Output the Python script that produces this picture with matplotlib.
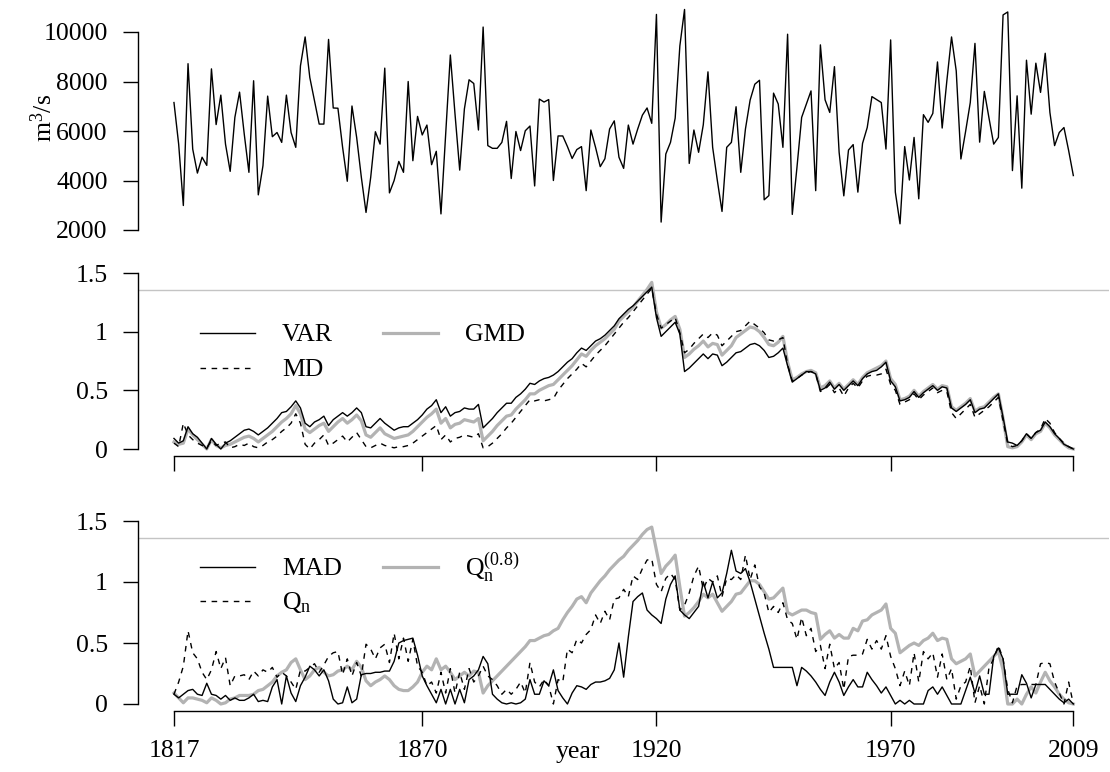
import matplotlib
matplotlib.use("Agg")
import matplotlib.pyplot as plt
from matplotlib.lines import Line2D

plt.rcParams['font.family'] = ['Liberation Serif', 'DejaVu Serif']
plt.rcParams['mathtext.fontset'] = 'custom'
plt.rcParams['mathtext.rm'] = 'Liberation Serif'
plt.rcParams['mathtext.it'] = 'Liberation Serif:italic'

years = list(range(1817, 2010))

flow = [7150, 5470, 2990, 8720, 5270, 4300, 4940, 4610, 8510, 6260,
        7450, 5470, 4370, 6550, 7570, 5880, 4330, 8030, 3420, 4600,
        7410, 5770, 5940, 5540, 7450, 5940, 5340, 8630, 9800, 8160,
        7220, 6280, 6280, 9700, 6930, 6920, 5340, 3970, 7010, 5740,
        4130, 2710, 4130, 5970, 5470, 8540, 3500, 4000, 4770, 4330,
        8000, 4800, 6590, 5840, 6240, 4640, 5180, 2650, 5880, 9070,
        6680, 4420, 6890, 8070, 7920, 6040, 10200, 5410, 5300, 5300,
        5540, 6390, 4080, 5980, 5210, 6010, 6200, 3780, 7290, 7170,
        7270, 4000, 5800, 5800, 5370, 4890, 5250, 5370, 3590, 6040,
        5340, 4560, 4880, 6080, 6410, 4940, 4490, 6240, 5470, 6080,
        6640, 6930, 6310, 10710, 2320, 5070, 5540, 6520, 9440, 10910,
        4690, 6040, 5140, 6250, 8390, 5340, 4000, 2750, 5340, 5540,
        6980, 4330, 6080, 7250, 7890, 8050, 3220, 3390, 7530, 7090,
        5340, 9910, 2630, 4530, 6550, 7090, 7620, 3590, 9480, 7260,
        6750, 8600, 5140, 3380, 5230, 5450, 3530, 5500, 6140, 7390,
        7270, 7150, 5270, 9680, 3530, 2250, 5370, 4020, 5740, 3260,
        6660, 6350, 6710, 8790, 6120, 8030, 9800, 8430, 4870, 5980,
        7150, 9540, 5550, 7600, 6520, 5470, 5740, 10690, 10810, 4400,
        7420, 3690, 8860, 6680, 8740, 7560, 9140, 6750, 5410, 5940,
        6140, 5210, 4200]

var_stat = [0.09, 0.05, 0.07, 0.19, 0.13, 0.10, 0.05, 0.00, 0.09, 0.04,
            0.00, 0.05, 0.07, 0.10, 0.13, 0.16, 0.17, 0.15, 0.12, 0.15,
            0.18, 0.22, 0.26, 0.31, 0.32, 0.36, 0.41, 0.35, 0.22, 0.19,
            0.23, 0.25, 0.28, 0.20, 0.25, 0.28, 0.31, 0.28, 0.31, 0.35,
            0.31, 0.19, 0.18, 0.22, 0.26, 0.22, 0.19, 0.16, 0.18, 0.19,
            0.19, 0.22, 0.25, 0.29, 0.34, 0.37, 0.42, 0.31, 0.36, 0.28,
            0.31, 0.32, 0.35, 0.34, 0.34, 0.38, 0.18, 0.22, 0.26, 0.31,
            0.35, 0.39, 0.39, 0.44, 0.47, 0.51, 0.56, 0.55, 0.58, 0.60,
            0.61, 0.63, 0.66, 0.70, 0.74, 0.77, 0.82, 0.86, 0.84, 0.88,
            0.92, 0.94, 0.97, 1.01, 1.05, 1.11, 1.15, 1.19, 1.22, 1.26,
            1.30, 1.34, 1.38, 1.12, 0.96, 1.00, 1.04, 1.08, 0.98, 0.66,
            0.69, 0.73, 0.77, 0.81, 0.77, 0.81, 0.80, 0.71, 0.74, 0.78,
            0.82, 0.83, 0.86, 0.89, 0.90, 0.88, 0.84, 0.78, 0.79, 0.82,
            0.86, 0.71, 0.57, 0.60, 0.63, 0.66, 0.66, 0.64, 0.50, 0.52,
            0.57, 0.51, 0.55, 0.50, 0.54, 0.58, 0.54, 0.60, 0.64, 0.66,
            0.67, 0.70, 0.74, 0.58, 0.53, 0.41, 0.42, 0.44, 0.49, 0.44,
            0.48, 0.51, 0.54, 0.50, 0.53, 0.52, 0.35, 0.32, 0.35, 0.38,
            0.42, 0.31, 0.34, 0.35, 0.39, 0.43, 0.47, 0.27, 0.06, 0.05,
            0.03, 0.07, 0.13, 0.09, 0.14, 0.16, 0.23, 0.19, 0.13, 0.09,
            0.04, 0.02, 0.00]

gmd_stat = [0.06, 0.04, 0.05, 0.17, 0.12, 0.08, 0.04, 0.00, 0.08, 0.03,
            0.01, 0.03, 0.04, 0.06, 0.08, 0.10, 0.11, 0.09, 0.06, 0.09,
            0.12, 0.15, 0.19, 0.23, 0.26, 0.30, 0.37, 0.30, 0.17, 0.14,
            0.17, 0.20, 0.22, 0.15, 0.19, 0.23, 0.26, 0.22, 0.25, 0.29,
            0.24, 0.12, 0.10, 0.14, 0.18, 0.13, 0.11, 0.09, 0.10, 0.11,
            0.12, 0.15, 0.19, 0.23, 0.27, 0.30, 0.34, 0.22, 0.26, 0.18,
            0.21, 0.22, 0.25, 0.24, 0.23, 0.26, 0.07, 0.11, 0.15, 0.20,
            0.24, 0.28, 0.29, 0.34, 0.38, 0.42, 0.47, 0.47, 0.50, 0.52,
            0.54, 0.55, 0.59, 0.63, 0.67, 0.71, 0.76, 0.81, 0.79, 0.84,
            0.88, 0.91, 0.94, 0.98, 1.02, 1.09, 1.13, 1.17, 1.21, 1.26,
            1.31, 1.36, 1.42, 1.17, 1.03, 1.06, 1.10, 1.13, 1.02, 0.78,
            0.81, 0.85, 0.88, 0.92, 0.87, 0.90, 0.89, 0.80, 0.84, 0.88,
            0.95, 0.98, 1.01, 1.04, 1.03, 1.00, 0.95, 0.89, 0.88, 0.91,
            0.96, 0.74, 0.59, 0.61, 0.64, 0.66, 0.67, 0.65, 0.52, 0.54,
            0.58, 0.52, 0.56, 0.51, 0.55, 0.59, 0.55, 0.61, 0.65, 0.67,
            0.69, 0.71, 0.75, 0.60, 0.55, 0.42, 0.43, 0.45, 0.50, 0.45,
            0.49, 0.52, 0.55, 0.51, 0.54, 0.53, 0.36, 0.33, 0.36, 0.39,
            0.43, 0.32, 0.35, 0.36, 0.40, 0.44, 0.47, 0.26, 0.02, 0.01,
            0.02, 0.06, 0.12, 0.08, 0.13, 0.15, 0.22, 0.18, 0.12, 0.08,
            0.04, 0.01, 0.00]

md_stat = [0.05, 0.02, 0.22, 0.12, 0.08, 0.05, 0.03, 0.01, 0.07, 0.03,
           0.05, 0.06, 0.01, 0.02, 0.04, 0.03, 0.05, 0.02, 0.01, 0.03,
           0.06, 0.08, 0.11, 0.15, 0.18, 0.22, 0.30, 0.22, 0.04, 0.00,
           0.05, 0.08, 0.12, 0.03, 0.05, 0.08, 0.11, 0.06, 0.10, 0.14,
           0.08, 0.02, 0.01, 0.03, 0.05, 0.03, 0.02, 0.01, 0.02, 0.02,
           0.03, 0.05, 0.08, 0.11, 0.14, 0.17, 0.20, 0.08, 0.12, 0.06,
           0.09, 0.10, 0.12, 0.11, 0.10, 0.13, 0.01, 0.02, 0.05, 0.09,
           0.13, 0.18, 0.22, 0.27, 0.32, 0.37, 0.42, 0.41, 0.42, 0.41,
           0.42, 0.43, 0.50, 0.55, 0.60, 0.64, 0.68, 0.73, 0.70, 0.75,
           0.80, 0.84, 0.88, 0.93, 0.98, 1.03, 1.08, 1.12, 1.17, 1.22,
           1.27, 1.32, 1.37, 1.15, 1.03, 1.06, 1.09, 1.12, 0.99, 0.82,
           0.85, 0.90, 0.94, 0.98, 0.95, 0.99, 0.97, 0.88, 0.92, 0.96,
           1.00, 1.01, 1.05, 1.09, 1.06, 1.03, 0.99, 0.93, 0.92, 0.93,
           0.95, 0.72, 0.58, 0.60, 0.63, 0.65, 0.66, 0.64, 0.49, 0.51,
           0.55, 0.48, 0.52, 0.45, 0.52, 0.56, 0.52, 0.58, 0.62, 0.63,
           0.63, 0.64, 0.68, 0.55, 0.50, 0.38, 0.40, 0.42, 0.47, 0.42,
           0.46, 0.49, 0.52, 0.48, 0.50, 0.49, 0.31, 0.26, 0.30, 0.34,
           0.38, 0.27, 0.30, 0.33, 0.36, 0.40, 0.44, 0.24, 0.04, 0.02,
           0.03, 0.07, 0.13, 0.09, 0.14, 0.17, 0.26, 0.22, 0.14, 0.09,
           0.05, 0.02, 0.00]

mad_stat = [0.08, 0.05, 0.08, 0.11, 0.12, 0.08, 0.07, 0.17, 0.08, 0.07,
            0.04, 0.07, 0.03, 0.05, 0.03, 0.03, 0.05, 0.08, 0.02, 0.03,
            0.02, 0.14, 0.20, 0.00, 0.23, 0.09, 0.02, 0.15, 0.22, 0.31,
            0.28, 0.23, 0.28, 0.19, 0.04, 0.00, 0.01, 0.14, 0.01, 0.04,
            0.24, 0.25, 0.25, 0.26, 0.26, 0.27, 0.27, 0.35, 0.50, 0.52,
            0.53, 0.54, 0.40, 0.23, 0.15, 0.08, 0.01, 0.12, 0.00, 0.12,
            0.00, 0.12, 0.01, 0.20, 0.23, 0.28, 0.39, 0.33, 0.08, 0.04,
            0.01, 0.00, 0.01, 0.00, 0.01, 0.04, 0.20, 0.08, 0.08, 0.19,
            0.15, 0.28, 0.11, 0.05, 0.00, 0.09, 0.15, 0.14, 0.12, 0.16,
            0.18, 0.18, 0.19, 0.21, 0.28, 0.50, 0.22, 0.55, 0.84, 0.88,
            0.91, 0.77, 0.73, 0.70, 0.66, 0.86, 0.98, 1.05, 0.77, 0.73,
            0.70, 0.75, 0.80, 1.00, 0.87, 1.00, 0.87, 0.91, 1.07, 1.26,
            1.09, 1.07, 1.11, 1.00, 0.86, 0.72, 0.58, 0.45, 0.30, 0.30,
            0.30, 0.30, 0.30, 0.15, 0.30, 0.27, 0.23, 0.18, 0.12, 0.07,
            0.18, 0.26, 0.18, 0.07, 0.14, 0.20, 0.14, 0.14, 0.26, 0.20,
            0.15, 0.09, 0.14, 0.07, 0.00, 0.03, 0.00, 0.03, 0.00, 0.00,
            0.00, 0.11, 0.14, 0.08, 0.14, 0.07, 0.00, 0.00, 0.00, 0.11,
            0.22, 0.09, 0.23, 0.08, 0.08, 0.39, 0.46, 0.37, 0.08, 0.08,
            0.08, 0.24, 0.17, 0.05, 0.16, 0.16, 0.16, 0.12, 0.08, 0.04,
            0.01, 0.04, 0.00]

qn_stat = [0.08, 0.18, 0.31, 0.60, 0.42, 0.37, 0.26, 0.20, 0.28, 0.43,
           0.29, 0.38, 0.15, 0.23, 0.23, 0.24, 0.20, 0.27, 0.23, 0.28,
           0.26, 0.30, 0.22, 0.26, 0.23, 0.18, 0.12, 0.28, 0.27, 0.30,
           0.33, 0.26, 0.32, 0.39, 0.42, 0.43, 0.24, 0.37, 0.23, 0.34,
           0.23, 0.49, 0.45, 0.37, 0.46, 0.49, 0.34, 0.58, 0.37, 0.54,
           0.35, 0.53, 0.31, 0.26, 0.15, 0.18, 0.09, 0.26, 0.09, 0.29,
           0.09, 0.26, 0.12, 0.29, 0.18, 0.23, 0.31, 0.23, 0.20, 0.15,
           0.08, 0.12, 0.08, 0.12, 0.18, 0.09, 0.34, 0.18, 0.14, 0.20,
           0.15, 0.00, 0.20, 0.18, 0.45, 0.42, 0.53, 0.50, 0.57, 0.61,
           0.73, 0.66, 0.76, 0.69, 0.86, 0.87, 0.94, 0.88, 1.05, 1.02,
           1.11, 1.18, 1.19, 0.98, 0.92, 1.03, 1.07, 1.02, 0.77, 0.81,
           0.91, 1.05, 1.13, 0.94, 1.03, 1.00, 1.05, 0.88, 1.03, 1.02,
           1.06, 1.02, 1.22, 1.02, 1.14, 0.96, 0.91, 0.75, 0.80, 0.75,
           0.83, 0.69, 0.66, 0.53, 0.71, 0.56, 0.62, 0.43, 0.48, 0.29,
           0.49, 0.29, 0.34, 0.12, 0.39, 0.40, 0.40, 0.41, 0.53, 0.45,
           0.52, 0.45, 0.56, 0.39, 0.29, 0.15, 0.27, 0.15, 0.42, 0.18,
           0.43, 0.37, 0.42, 0.22, 0.41, 0.20, 0.29, 0.04, 0.15, 0.18,
           0.31, 0.01, 0.15, 0.00, 0.30, 0.37, 0.48, 0.37, 0.12, 0.01,
           0.15, 0.16, 0.16, 0.16, 0.16, 0.33, 0.34, 0.33, 0.18, 0.09,
           0.00, 0.18, 0.00]

qn08_stat = [0.09, 0.05, 0.01, 0.05, 0.05, 0.04, 0.03, 0.01, 0.05, 0.03,
             0.00, 0.01, 0.04, 0.05, 0.07, 0.07, 0.07, 0.08, 0.11, 0.12,
             0.15, 0.18, 0.23, 0.26, 0.28, 0.34, 0.37, 0.28, 0.20, 0.23,
             0.28, 0.30, 0.26, 0.23, 0.24, 0.27, 0.28, 0.31, 0.28, 0.35,
             0.30, 0.19, 0.15, 0.18, 0.20, 0.23, 0.20, 0.15, 0.12, 0.11,
             0.11, 0.14, 0.18, 0.26, 0.31, 0.28, 0.37, 0.28, 0.31, 0.26,
             0.20, 0.23, 0.26, 0.23, 0.27, 0.26, 0.09, 0.15, 0.19, 0.23,
             0.27, 0.31, 0.35, 0.39, 0.43, 0.47, 0.52, 0.52, 0.54, 0.56,
             0.57, 0.60, 0.62, 0.69, 0.75, 0.80, 0.86, 0.88, 0.83, 0.91,
             0.96, 1.01, 1.05, 1.10, 1.14, 1.18, 1.21, 1.26, 1.30, 1.34,
             1.39, 1.43, 1.45, 1.26, 1.07, 1.13, 1.17, 1.22, 0.96, 0.72,
             0.75, 0.79, 0.84, 0.90, 0.87, 0.90, 0.83, 0.76, 0.80, 0.84,
             0.90, 0.91, 0.96, 1.01, 1.01, 0.98, 0.92, 0.86, 0.87, 0.91,
             0.95, 0.75, 0.73, 0.75, 0.77, 0.77, 0.75, 0.74, 0.53, 0.57,
             0.60, 0.54, 0.57, 0.54, 0.54, 0.62, 0.60, 0.68, 0.69, 0.73,
             0.75, 0.77, 0.82, 0.62, 0.58, 0.42, 0.45, 0.48, 0.50, 0.48,
             0.52, 0.54, 0.58, 0.52, 0.54, 0.53, 0.37, 0.33, 0.35, 0.37,
             0.41, 0.23, 0.27, 0.31, 0.35, 0.39, 0.43, 0.28, 0.00, 0.00,
             0.04, 0.00, 0.08, 0.14, 0.09, 0.18, 0.26, 0.19, 0.14, 0.08,
             0.04, 0.01, 0.00]

threshold = 1.358
year_ticks = [1817, 1870, 1920, 1970, 2009]
flow_ticks = [2000, 4000, 6000, 8000, 10000]
stat_ticks = [0, 0.5, 1, 1.5]
stat_ticklabels = ['0', '0.5', '1', '1.5']

W, H = 1110, 772
FS = 18.5
TICKLEN = 10.8
GRAY = '#b3b3b3'

fig = plt.figure(figsize=(W / 100, H / 100), dpi=100)

X0, X1 = 138.0, 1109.3
XLIM = (1817 - 0.04 * 192, 2009 + 0.04 * 192)


def make_axes(ytop_px, ybot_px, v_a, pa, v_b, pb):
    """axes spanning pixel rows ytop..ybot where value v_a sits at pixel pa, v_b at pb"""
    ax = fig.add_axes([X0 / W, 1 - ybot_px / H, (X1 - X0) / W, (ybot_px - ytop_px) / H])
    scale = (pa - pb) / (v_b - v_a)  # px per unit
    top = v_a + (pa - ytop_px) / scale
    bot = v_a - (ybot_px - pa) / scale
    ax.set_ylim(bot, top)
    ax.set_xlim(*XLIM)
    for s in ['top', 'right']:
        ax.spines[s].set_visible(False)
    ax.spines['left'].set_linewidth(1.0)
    ax.spines['bottom'].set_linewidth(1.0)
    ax.tick_params(axis='y', direction='out', length=TICKLEN, width=1.0,
                   labelsize=FS, pad=11)
    ax.tick_params(axis='x', direction='out', length=TICKLEN, width=1.0,
                   labelsize=FS, pad=10)
    ax.patch.set_visible(False)
    return ax


# ---- top panel: flow
ax1 = make_axes(0, 231, 2000, 230, 10000, 32)
ax1.plot(years, flow, color='black', lw=1.0)
ax1.spines['bottom'].set_visible(False)
ax1.set_xticks([])
ax1.set_yticks(flow_ticks)
ax1.set_yticklabels([str(t) for t in flow_ticks])
ax1.spines['left'].set_bounds(2000, 10000)
fig.text(44 / W, 1 - 118 / H, r'm$^3$/s', rotation=90, ha='center', va='center', fontsize=FS)

# ---- middle panel
ax2 = make_axes(272, 456, 0, 449, 1.5, 273)
ax2.axhline(threshold, color='#c4c4c4', lw=1.0)
ax2.plot(years, gmd_stat, color=GRAY, lw=2.3)
ax2.plot(years, var_stat, color='black', lw=1.0)
ax2.plot(years, md_stat, color='black', lw=1.0, dashes=(4, 4))
ax2.set_yticks(stat_ticks)
ax2.set_yticklabels(stat_ticklabels)
ax2.spines['left'].set_bounds(0, 1.5)
ax2.set_xticks(year_ticks)
ax2.set_xticklabels([])
ax2.spines['bottom'].set_bounds(1817, 2009)

# ---- bottom panel
ax3 = make_axes(520, 711, 0, 704, 1.5, 521)
ax3.axhline(threshold, color='#c4c4c4', lw=1.0)
ax3.plot(years, qn08_stat, color=GRAY, lw=2.3)
ax3.plot(years, mad_stat, color='black', lw=1.0)
ax3.plot(years, qn_stat, color='black', lw=1.0, dashes=(4, 4))
ax3.set_yticks(stat_ticks)
ax3.set_yticklabels(stat_ticklabels)
ax3.spines['left'].set_bounds(0, 1.5)
ax3.set_xticks(year_ticks)
ax3.set_xticklabels([str(t) for t in year_ticks])
ax3.spines['bottom'].set_bounds(1817, 2009)
fig.text(578 / W, 1 - 758 / H, 'year', ha='center', va='baseline', fontsize=FS)


# ---- legends (drawn as keys in figure pixel space)
def legend_key(x0, x1, y, label, **kw):
    fig.add_artist(Line2D([x0 / W, x1 / W], [1 - y / H, 1 - y / H],
                          transform=fig.transFigure, **kw))
    fig.text((x1 + 27) / W, 1 - (y + 8) / H, label, ha='left', va='baseline', fontsize=FS)


legend_key(200, 255, 333, 'VAR', color='black', lw=1.0)
legend_key(200, 255, 368, 'MD', color='black', lw=1.0, dashes=(4, 4))
legend_key(383, 438, 333, 'GMD', color=GRAY, lw=2.3)

legend_key(200, 255, 567, 'MAD', color='black', lw=1.0)
legend_key(200, 255, 601, r'Q$_\mathrm{n}$', color='black', lw=1.0, dashes=(4, 4))
legend_key(383, 438, 567, r'Q$_\mathrm{n}^{(0.8)}$', color=GRAY, lw=2.3)

fig.savefig('out.png', dpi=100)
